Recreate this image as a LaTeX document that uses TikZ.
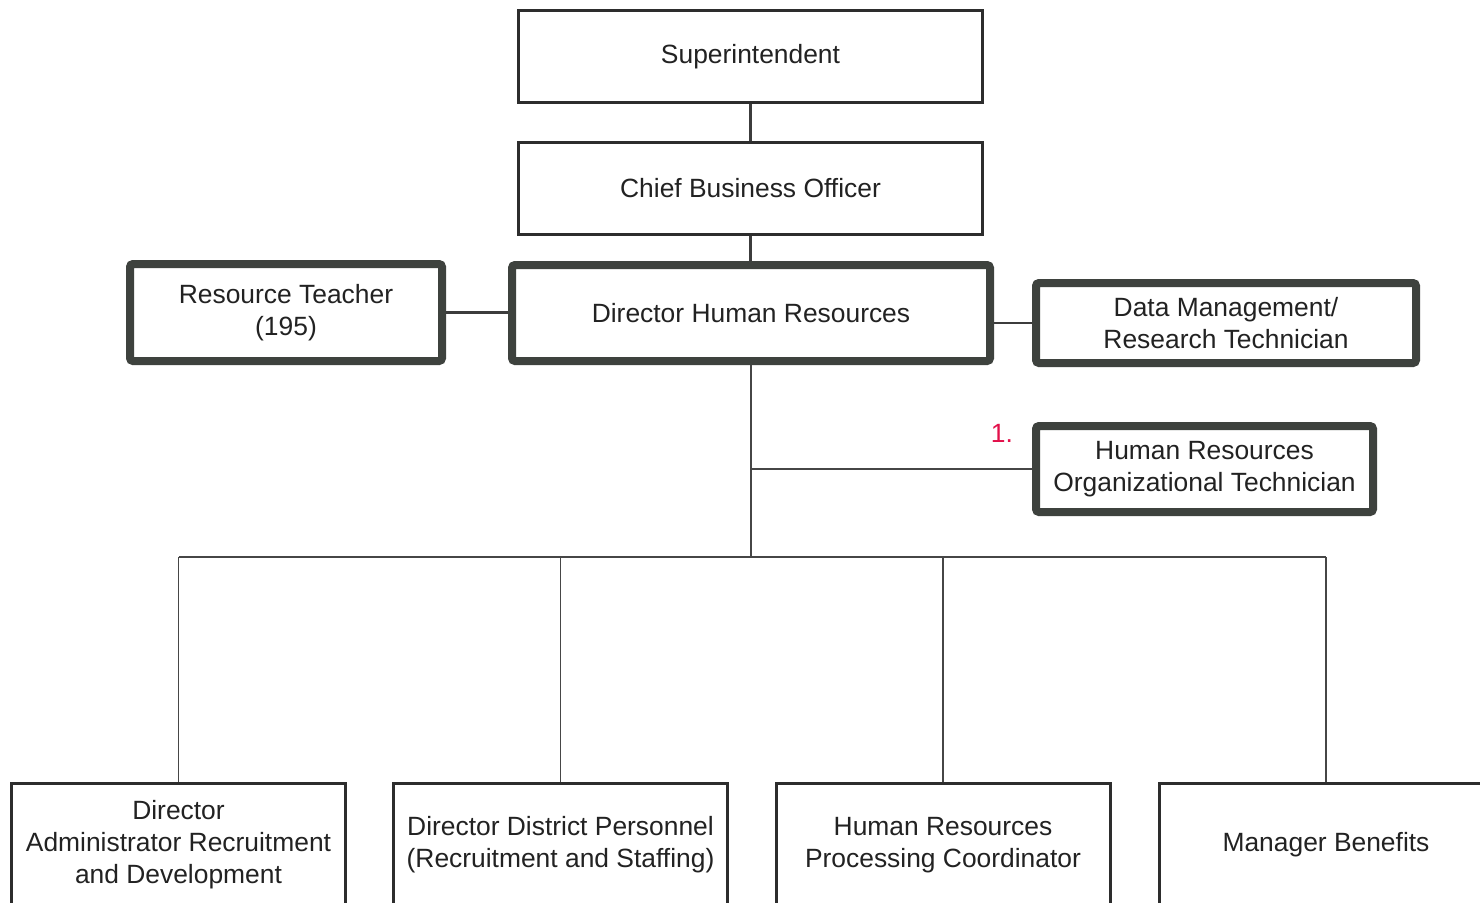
\documentclass[tikz,border=0pt]{standalone}
\usepackage{fontspec}
\setmainfont{Liberation Sans}
\usetikzlibrary{positioning}

\begin{document}
\begin{tikzpicture}[x=0.5pt,y=0.5pt,yscale=-1,xscale=1,
  every node/.style={font=\fontsize{13.2}{16}\selectfont, text={rgb,255:red,34;green,34;blue,34}, align=center, inner sep=0pt},
  plainbox/.style={draw={rgb,255:red,45;green,45;blue,45}, line width=1.5pt, fill=white, minimum width=232pt, minimum height=46pt},
  heavybox/.style={draw={rgb,255:red,62;green,66;blue,62}, line width=4pt, rounded corners=1.5pt, fill=white},
  footbox/.style={draw={rgb,255:red,45;green,45;blue,45}, line width=1.5pt, fill=white, minimum width=167pt, minimum height=62pt},
  link/.style={draw={rgb,255:red,60;green,60;blue,60}, line width=1.4pt},
  thinlink/.style={draw={rgb,255:red,70;green,70;blue,70}, line width=0.6pt}]
\useasboundingbox (0,0) rectangle (1480,902);

%Boxes top row
\node [plainbox] (sup) at (750.5,56.5) {Superintendent};
\node [plainbox] (cbo) at (750.5,188) {Chief Business Officer};
\node [heavybox, minimum width=239pt, minimum height=48pt] (dhr) at (751,313) {Director Human Resources};
\node [heavybox, minimum width=156pt, minimum height=48.5pt] (rt) at (286,312.5) {Resource Teacher\\(195)};
\node [heavybox, minimum width=190pt, minimum height=40pt] (dm) at (1226,323) {Data Management/\\Research Technician};
\node [heavybox, minimum width=168.5pt, minimum height=43pt] (hrot) at (1204.5,469) {Human Resources\\Organizational Technician};
% Text Node
\node [text={rgb,255:red,226;green,16;blue,74}] (mark) at (1002,433) {1.};

%Boxes bottom row
\node [footbox] (adm) at (178.5,845) {Director\\Administrator Recruitment\\and Development};
\node [footbox] (ddp) at (560.5,845) {Director District Personnel\\(Recruitment and Staffing)};
\node [footbox] (hrpc) at (943,845) {Human Resources\\Processing Coordinator};
\node [footbox] (mben) at (1326,845) {Manager Benefits};

%Connectors
\coordinate (bus) at (751,557);
\draw [link] (sup) -- (cbo);
\draw [link] (cbo.south) -- (cbo.south |- dhr.north);
\draw [link] (rt.east) -- (rt.east -| dhr.west);
\draw [link] (dhr.east |- dm.west) -- (dm.west);
\draw [thinlink] (dhr.south) -- (dhr.south |- bus);
\draw [thinlink] (dhr.south |- hrot.west) -- (hrot.west);
\draw [thinlink] (adm.north |- bus) -- (mben.north |- bus);
\foreach \b in {adm,ddp,hrpc,mben}
  \draw [thinlink] (\b.north |- bus) -- (\b.north);

\end{tikzpicture}
\end{document}
